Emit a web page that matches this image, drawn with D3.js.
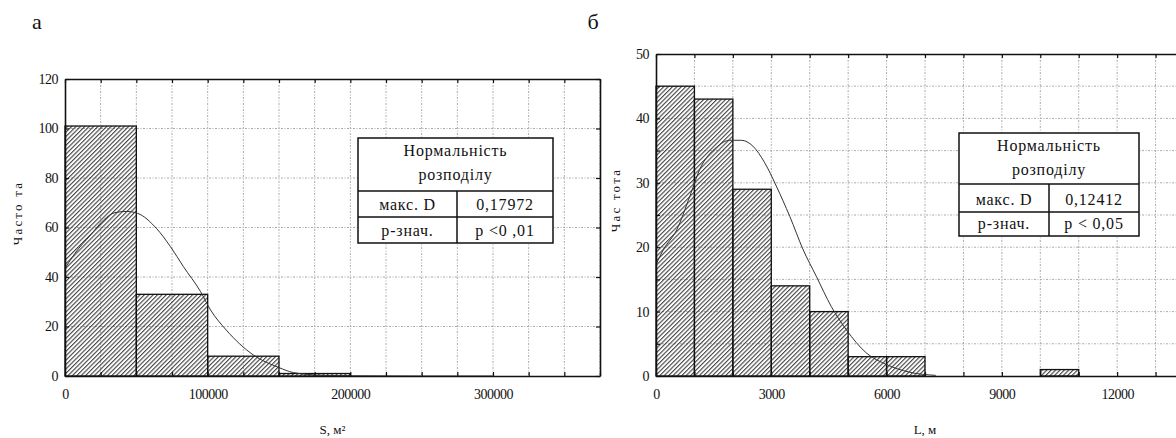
<!DOCTYPE html>
<html>
<head>
<meta charset="utf-8">
<script src="https://cdnjs.cloudflare.com/ajax/libs/d3/7.8.5/d3.min.js"></script>
<style>
  body { margin: 0; background: #fff; }
  svg { display: block; }
  text { fill: #111; }
</style>
</head>
<body>
<svg id="chart" width="1176" height="438"></svg>
<script>
// panel "а" - area S, m2
var binEdgesA = [0, 50000, 100000, 150000, 200000, 250000, 300000];
var countsA = [101, 33, 8, 1, 0, 0];
var curveXA = [0, 7000, 18000, 27000, 35000, 43000, 51000, 64000, 74000, 83000, 95000, 102000, 113000, 132000, 150000, 160000, 180000, 200000, 250000, 300000];
var curveYA = [43.5, 49.6, 57, 63, 66, 66.5, 65.7, 59.7, 52.2, 44.2, 34.1, 26.7, 18.6, 8.5, 3.4, 1.4, 0.3, 0.1, 0, 0];
var xLabelsA = [0, 100000, 200000, 300000];
var yLabelsA = [0, 20, 40, 60, 80, 100, 120];
var statsA = ["0,17972", "р <0 ,01"];

// panel "б" - length L, m
var binEdgesB = [0, 1000, 2000, 3000, 4000, 5000, 6000, 7000, 8000, 9000, 10000, 11000];
var countsB = [45, 43, 29, 14, 10, 3, 3, 0, 0, 0, 1];
var curveXB = [0, 190, 540, 880, 1140, 1570, 1920, 2220, 2520, 2830, 3130, 3480, 3830, 4170, 4560, 4950, 5470, 5990, 6590, 7280];
var curveYB = [17.3, 19.6, 22.7, 27.9, 32.1, 35.5, 36.6, 36.6, 35.7, 33.1, 29.5, 24.8, 19.6, 15.5, 10.8, 7.2, 3.6, 1.8, 0.6, 0.1];
var xLabelsB = [0, 3000, 6000, 9000, 12000];
var yLabelsB = [0, 10, 20, 30, 40, 50];
var statsB = ["0,12412", "р < 0,05"];

var serif = "'Liberation Serif', 'DejaVu Serif', serif";
var svg = d3.select("#chart");

// hatch pattern "/"
svg.append("defs").append("pattern")
    .attr("id", "hatch")
    .attr("patternUnits", "userSpaceOnUse")
    .attr("width", 3.1)
    .attr("height", 3.1)
    .attr("patternTransform", "rotate(45)")
  .append("line")
    .attr("x1", 0.6).attr("y1", 0)
    .attr("x2", 0.6).attr("y2", 3.1)
    .attr("stroke", "#222")
    .attr("stroke-width", 0.95);

function drawPanel(p) {
  var x = d3.scaleLinear().domain([0, p.xMax]).range([p.left, p.right]);
  var y = d3.scaleLinear().domain([0, p.yMax]).range([p.bottom, p.top]);
  var xGrid = d3.range(0, p.xMax + 1, p.xStep);
  var yGrid = d3.range(0, p.yMax + 0.001, p.yStep);
  var g = svg.append("g").attr("font-family", serif);

  // dotted grid
  g.append("g").selectAll("line")
    .data(xGrid.slice(1))
    .enter().append("line")
      .attr("x1", function(d) { return x(d); })
      .attr("x2", function(d) { return x(d); })
      .attr("y1", p.top).attr("y2", p.bottom)
      .attr("stroke", "#aaa").attr("stroke-dasharray", "2,1.5,1,1.5");
  g.append("g").selectAll("line")
    .data(yGrid.slice(1, -1))
    .enter().append("line")
      .attr("y1", function(d) { return y(d); })
      .attr("y2", function(d) { return y(d); })
      .attr("x1", p.left).attr("x2", p.right)
      .attr("stroke", "#aaa").attr("stroke-dasharray", "2,1.5,1,1.5");

  // bars
  g.append("g").selectAll("rect")
    .data(p.counts)
    .enter().append("rect")
      .attr("x", function(d, i) { return x(p.edges[i]); })
      .attr("width", function(d, i) { return x(p.edges[i + 1]) - x(p.edges[i]); })
      .attr("y", function(d) { return y(d); })
      .attr("height", function(d) { return p.bottom - y(d); })
      .attr("fill", "url(#hatch)")
      .attr("stroke", "#111")
      .attr("stroke-width", 1.3);

  // fitted normal curve
  var pts = p.curveX.map(function(v, i) { return [v, p.curveY[i]]; });
  g.append("path")
    .datum(pts)
    .attr("fill", "none")
    .attr("stroke", "#333")
    .attr("stroke-width", 1)
    .attr("d", d3.line()
      .x(function(d) { return x(d[0]); })
      .y(function(d) { return y(d[1]); })
      .curve(d3.curveMonotoneX));

  // axes with inside ticks
  var bottomAxis = d3.axisBottom(x)
    .tickValues(xGrid)
    .tickSize(-4).tickSizeOuter(0).tickPadding(13)
    .tickFormat(function(d) { return p.xLabels.indexOf(d) >= 0 ? d3.format("d")(d) : ""; });
  var leftAxis = d3.axisLeft(y)
    .tickValues(yGrid)
    .tickSize(-4).tickSizeOuter(0).tickPadding(7)
    .tickFormat(function(d) { return p.yLabels.indexOf(d) >= 0 ? d3.format("d")(d) : ""; });

  var axes = [
    g.append("g").attr("transform", "translate(0," + p.bottom + ")").call(bottomAxis),
    g.append("g").attr("transform", "translate(" + p.left + ",0)").call(leftAxis),
    g.append("g").attr("transform", "translate(0," + p.top + ")")
      .call(d3.axisTop(x).tickValues(xGrid).tickSize(-4).tickSizeOuter(0).tickFormat("")),
    g.append("g").attr("transform", "translate(" + p.right + ",0)")
      .call(d3.axisRight(y).tickValues(yGrid).tickSize(-4).tickSizeOuter(0).tickFormat(""))
  ];
  axes.forEach(function(a) {
    a.attr("font-family", serif).attr("font-size", 14);
    a.select(".domain").attr("stroke", "#111").attr("stroke-width", 1.6);
    a.selectAll(".tick line").attr("stroke", "#111").attr("stroke-width", 1.2);
    a.selectAll(".tick text")
      .style("letter-spacing", "-0.5px")
      .attr("fill", "#111");
  });

  // axis titles
  g.append("text")
    .attr("x", (p.left + p.right) / 2)
    .attr("y", 434)
    .attr("text-anchor", "middle")
    .attr("font-size", 13)
    .text(p.xTitle);
  g.append("text")
    .attr("transform", "translate(" + p.yTitleX + "," + p.yTitleY + ")rotate(-90)")
    .attr("text-anchor", "middle")
    .attr("font-size", 13)
    .style("letter-spacing", "2.2px")
    .text(p.yTitle);

  // panel letter
  g.append("text")
    .attr("x", p.letterX).attr("y", 29)
    .attr("text-anchor", "middle")
    .attr("font-size", 22)
    .text(p.letter);

  // normality box
  var t = p.table;
  var tb = g.append("g").attr("transform", "translate(" + t.x + "," + t.y + ")");
  var hh = t.rows[0], r1 = t.rows[1], r2 = t.rows[2];
  tb.append("rect").attr("width", t.w).attr("height", hh + r1 + r2)
    .attr("fill", "#fff").attr("stroke", "#111").attr("stroke-width", 1.5);
  tb.append("line").attr("x1", 0).attr("x2", t.w).attr("y1", hh).attr("y2", hh)
    .attr("stroke", "#111").attr("stroke-width", 1.5);
  tb.append("line").attr("x1", 0).attr("x2", t.w).attr("y1", hh + r1).attr("y2", hh + r1)
    .attr("stroke", "#111").attr("stroke-width", 1.5);
  tb.append("line").attr("x1", t.split).attr("x2", t.split).attr("y1", hh).attr("y2", hh + r1 + r2)
    .attr("stroke", "#111").attr("stroke-width", 1.5);
  var cell = function(s) {
    return s.attr("font-size", 16).style("letter-spacing", "0.8px").attr("text-anchor", "middle");
  };
  cell(tb.append("text").attr("x", t.w / 2).attr("y", 18).text("Нормальність"));
  cell(tb.append("text").attr("x", t.w / 2).attr("y", 42).text("розподілу"));
  cell(tb.append("text").attr("x", t.split / 2).attr("y", hh + r1 - 7).text("макс. D"));
  cell(tb.append("text").attr("x", (t.split + t.w) / 2).attr("y", hh + r1 - 7).text(p.stats[0]));
  cell(tb.append("text").attr("x", t.split / 2).attr("y", hh + r1 + r2 - 7).text("р-знач."));
  cell(tb.append("text").attr("x", (t.split + t.w) / 2).attr("y", hh + r1 + r2 - 7).text(p.stats[1]));
}

drawPanel({
  left: 65, right: 600, top: 79, bottom: 376,
  xMax: 375000, xStep: 25000, yMax: 120, yStep: 20,
  edges: binEdgesA, counts: countsA, curveX: curveXA, curveY: curveYA,
  xLabels: xLabelsA, yLabels: yLabelsA, stats: statsA,
  xTitle: "S, м²", yTitle: "Часто та", yTitleX: 22, yTitleY: 213,
  letter: "а", letterX: 37,
  table: { x: 358, y: 138, w: 195, split: 99, rows: [53, 26, 26] }
});

drawPanel({
  left: 656, right: 1194, top: 54, bottom: 376,
  xMax: 14000, xStep: 1000, yMax: 50, yStep: 5,
  edges: binEdgesB, counts: countsB, curveX: curveXB, curveY: curveYB,
  xLabels: xLabelsB, yLabels: yLabelsB, stats: statsB,
  xTitle: "L, м", yTitle: "Час тота", yTitleX: 620, yTitleY: 200,
  letter: "б", letterX: 593,
  table: { x: 959, y: 133, w: 180, split: 90, rows: [51, 28, 24] }
});
</script>
</body>
</html>
